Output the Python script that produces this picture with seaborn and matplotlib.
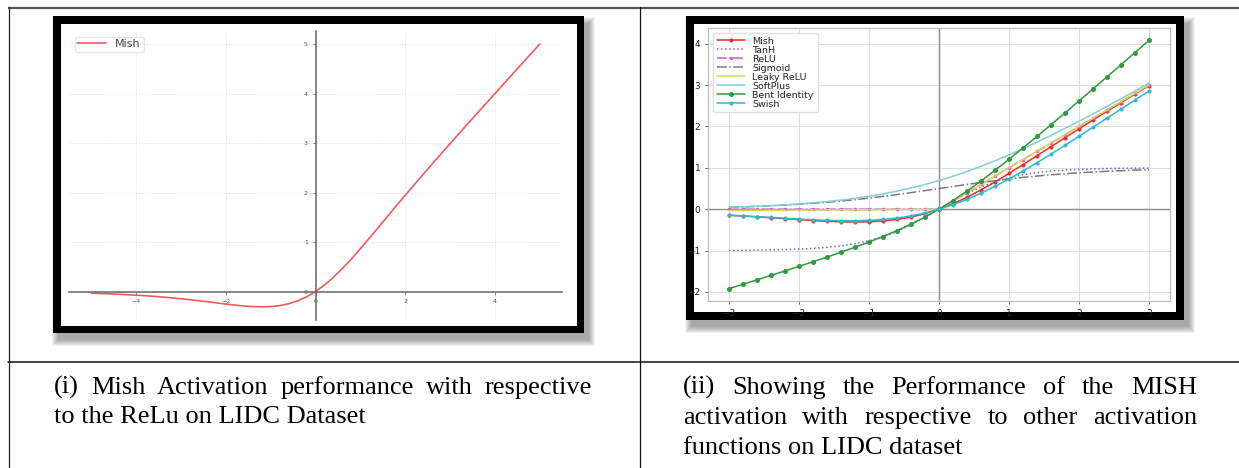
import matplotlib
matplotlib.use("Agg")
import matplotlib.pyplot as plt
import seaborn as sns
from matplotlib.patches import Rectangle

sns.set_style("white")
plt.rcParams["font.family"] = ["DejaVu Sans"]

# ---- data ----
# panel (i): Mish on [-5, 5]
x_left = [-5.0, -4.8, -4.6, -4.4, -4.2, -4.0, -3.8, -3.6, -3.4, -3.2,
          -3.0, -2.8, -2.6, -2.4, -2.2, -2.0, -1.8, -1.6, -1.4, -1.2,
          -1.0, -0.8, -0.6, -0.4, -0.2, 0.0, 0.2, 0.4, 0.6, 0.8,
          1.0, 1.2, 1.4, 1.6, 1.8, 2.0, 2.2, 2.4, 2.6, 2.8,
          3.0, 3.2, 3.4, 3.6, 3.8, 4.0, 4.2, 4.4, 4.6, 4.8, 5.0]
mish_left = [-0.034, -0.039, -0.046, -0.054, -0.063, -0.073, -0.084, -0.097, -0.112, -0.128,
             -0.146, -0.165, -0.186, -0.208, -0.230, -0.252, -0.273, -0.291, -0.304, -0.309,
             -0.303, -0.284, -0.247, -0.189, -0.107, 0.0, 0.133, 0.289, 0.466, 0.660,
             0.865, 1.078, 1.295, 1.512, 1.729, 1.944, 2.157, 2.367, 2.575, 2.782,
             2.987, 3.190, 3.393, 3.595, 3.796, 3.997, 4.198, 4.399, 4.599, 4.799, 5.000]

# panel (ii): all activations on [-3, 3]
x_right = [-3.0, -2.8, -2.6, -2.4, -2.2, -2.0, -1.8, -1.6, -1.4, -1.2, -1.0,
           -0.8, -0.6, -0.4, -0.2, 0.0, 0.2, 0.4, 0.6, 0.8, 1.0,
           1.2, 1.4, 1.6, 1.8, 2.0, 2.2, 2.4, 2.6, 2.8, 3.0]
mish_r = [-0.146, -0.165, -0.186, -0.208, -0.230, -0.252, -0.273, -0.291, -0.304, -0.309, -0.303,
          -0.284, -0.247, -0.189, -0.107, 0.0, 0.133, 0.289, 0.466, 0.660, 0.865,
          1.078, 1.295, 1.512, 1.729, 1.944, 2.157, 2.367, 2.575, 2.782, 2.987]
tanh_r = [-0.995, -0.993, -0.989, -0.984, -0.976, -0.964, -0.947, -0.922, -0.885, -0.834, -0.762,
          -0.664, -0.537, -0.380, -0.197, 0.0, 0.197, 0.380, 0.537, 0.664, 0.762,
          0.834, 0.885, 0.922, 0.947, 0.964, 0.976, 0.984, 0.989, 0.993, 0.995]
relu_r = [0.0, 0.0, 0.0, 0.0, 0.0, 0.0, 0.0, 0.0, 0.0, 0.0, 0.0,
          0.0, 0.0, 0.0, 0.0, 0.0, 0.2, 0.4, 0.6, 0.8, 1.0,
          1.2, 1.4, 1.6, 1.8, 2.0, 2.2, 2.4, 2.6, 2.8, 3.0]
sigmoid_r = [0.047, 0.057, 0.069, 0.083, 0.100, 0.119, 0.142, 0.168, 0.198, 0.231, 0.269,
             0.310, 0.354, 0.401, 0.450, 0.500, 0.550, 0.599, 0.646, 0.690, 0.731,
             0.769, 0.802, 0.832, 0.858, 0.881, 0.900, 0.917, 0.931, 0.943, 0.953]
leaky_r = [-0.030, -0.028, -0.026, -0.024, -0.022, -0.020, -0.018, -0.016, -0.014, -0.012, -0.010,
           -0.008, -0.006, -0.004, -0.002, 0.0, 0.2, 0.4, 0.6, 0.8, 1.0,
           1.2, 1.4, 1.6, 1.8, 2.0, 2.2, 2.4, 2.6, 2.8, 3.0]
softplus_r = [0.049, 0.059, 0.072, 0.087, 0.105, 0.127, 0.153, 0.184, 0.220, 0.263, 0.313,
              0.371, 0.437, 0.513, 0.598, 0.693, 0.798, 0.913, 1.037, 1.171, 1.313,
              1.463, 1.620, 1.784, 1.953, 2.127, 2.305, 2.487, 2.672, 2.859, 3.049]
bent_r = [-1.919, -1.813, -1.707, -1.600, -1.492, -1.382, -1.270, -1.157, -1.040, -0.919, -0.793,
          -0.660, -0.517, -0.361, -0.190, 0.0, 0.210, 0.439, 0.683, 0.940, 1.207,
          1.481, 1.760, 2.043, 2.330, 2.618, 2.908, 3.200, 3.493, 3.787, 4.081]
swish_r = [-0.142, -0.161, -0.180, -0.200, -0.219, -0.238, -0.255, -0.269, -0.277, -0.278, -0.269,
           -0.248, -0.213, -0.161, -0.090, 0.0, 0.110, 0.239, 0.387, 0.552, 0.731,
           0.922, 1.123, 1.331, 1.545, 1.762, 1.981, 2.200, 2.420, 2.640, 2.858]

caption_left = ["(i) Mish Activation performance with respective",
                "to the ReLu on LIDC Dataset"]
caption_right = ["(ii) Showing the Performance of the MISH",
                 "activation with respective to other activation",
                 "functions on LIDC dataset"]

# ---- page layout (pixel canvas) ----
W, H = 1239, 468
fig = plt.figure(figsize=(W / 100, H / 100), dpi=100)
bg = fig.add_axes([0, 0, 1, 1])
bg.set_xlim(0, W)
bg.set_ylim(H, 0)
bg.axis("off")


def px_box(x0, y0, x1, y1):
    return [x0 / W, 1 - y1 / H, (x1 - x0) / W, (y1 - y0) / H]


# table rules
bg.plot([8, W], [7.5, 7.5], color="#555555", lw=1.6, solid_capstyle="butt")
bg.plot([8.5, 8.5], [7, H], color="#222222", lw=0.9)
bg.plot([639.5, 639.5], [7, H], color="#111111", lw=0.9)
bg.plot([8, W], [362, 362], color="#111111", lw=1.1)


def frame(x0, y0, x1, y1, t):
    # soft drop shadow, then thick black border, then white page
    for k in range(7):
        bg.add_patch(Rectangle((x0 + 5 - k, y0 + 7 - k), x1 - x0 + 2 * k, y1 - y0 + 2 * k,
                               color="black", alpha=0.055, lw=0))
    bg.add_patch(Rectangle((x0, y0), x1 - x0, y1 - y0, color="black", lw=0))
    bg.add_patch(Rectangle((x0 + t, y0 + t), x1 - x0 - 2 * t, y1 - y0 - 2 * t, color="white", lw=0))


frame(53, 16, 584, 333, 7.5)
frame(686, 16, 1184, 320, 8)

# ---- panel (i) ----
axL = fig.add_axes(px_box(69, 31, 562, 320))
axL.patch.set_alpha(0)
sns.lineplot(x=x_left, y=mish_left, ax=axL, color="#f25a5a", lw=1.2, label="Mish")
axL.spines["top"].set_visible(False)
axL.spines["right"].set_visible(False)
axL.spines["left"].set_position("zero")
axL.spines["bottom"].set_position("zero")
for s in ["left", "bottom"]:
    axL.spines[s].set_color("#666666")
    axL.spines[s].set_linewidth(1.1)
axL.grid(True, color="#dedede", ls=":", lw=0.7)
axL.set_xticks([-4, -2, 0, 2, 4])
axL.set_yticks([0, 1, 2, 3, 4, 5])
axL.tick_params(labelsize=4.5, colors="#555555", length=2, width=0.5, bottom=True, left=True)
legL = axL.legend(loc="upper left", fontsize=8, handlelength=2.6, borderpad=0.25,
                  edgecolor="#e6e6e6", framealpha=1)
for t in legL.get_texts():
    t.set_color("#444444")

# ---- panel (ii) ----
axR = fig.add_axes(px_box(708, 28, 1170, 301))
axR.patch.set_alpha(0)
axR.axhline(0, color="#8a8a8a", lw=1.0, zorder=1)
axR.axvline(0, color="#8a8a8a", lw=1.0, zorder=1)

series = [
    ("Mish", mish_r, "#ee2a2a", "-", "o", 2.2),
    ("TanH", tanh_r, "#6a6ad8", ":", None, 0),
    ("ReLU", relu_r, "#cc5fcc", "-.", "o", 1.8),
    ("Sigmoid", sigmoid_r, "#7a7a7a", "-.", None, 0),
    ("Leaky ReLU", leaky_r, "#d8d650", "-", None, 0),
    ("SoftPlus", softplus_r, "#80cfd8", "-", None, 0),
    ("Bent Identity", bent_r, "#2e9a3c", "-", "o", 2.8),
    ("Swish", swish_r, "#30b9cf", "-", "o", 2.2),
]
for name, yv, col, ls, mk, ms in series:
    kw = dict(marker=mk, markersize=ms, markeredgecolor=col, markerfacecolor=col) if mk else {}
    sns.lineplot(x=x_right, y=yv, ax=axR, color=col, linestyle=ls, lw=1.1, label=name, **kw)

axR.grid(True, color="#dcdcdc", lw=0.7)
for s in axR.spines.values():
    s.set_color("#bdbdbd")
    s.set_linewidth(0.9)
axR.set_xticks([-3, -2, -1, 0, 1, 2, 3])
axR.set_yticks([-2, -1, 0, 1, 2, 3, 4])
axR.tick_params(labelsize=6.5, colors="#222222", length=2, width=0.5, bottom=True, left=True)
legR = axR.legend(loc="upper left", fontsize=6.8, labelspacing=0.0, handlelength=3.0,
                  borderpad=0.4, edgecolor="#e0e0e0", framealpha=1)
for t in legR.get_texts():
    t.set_color("#222222")

# ---- captions ----
cap_font = dict(family="Liberation Serif", fontsize=19, color="black", va="baseline")
renderer = fig.canvas.get_renderer()


def justified(line, x0, x1, y):
    words = line.split()
    texts = [bg.text(0, y, w, ha="left", **cap_font) for w in words]
    widths = [t.get_window_extent(renderer=renderer).width for t in texts]
    gap = (x1 - x0 - sum(widths)) / (len(words) - 1)
    x = x0
    for t, w in zip(texts, widths):
        t.set_x(x)
        x += w + gap


justified(caption_left[0], 54, 592, 394)
bg.text(54, 423, caption_left[1], ha="left", **cap_font)
justified(caption_right[0], 683, 1197, 394)
justified(caption_right[1], 683, 1197, 424)
bg.text(683, 454, caption_right[2], ha="left", **cap_font)

fig.savefig("out.png", dpi=100)
